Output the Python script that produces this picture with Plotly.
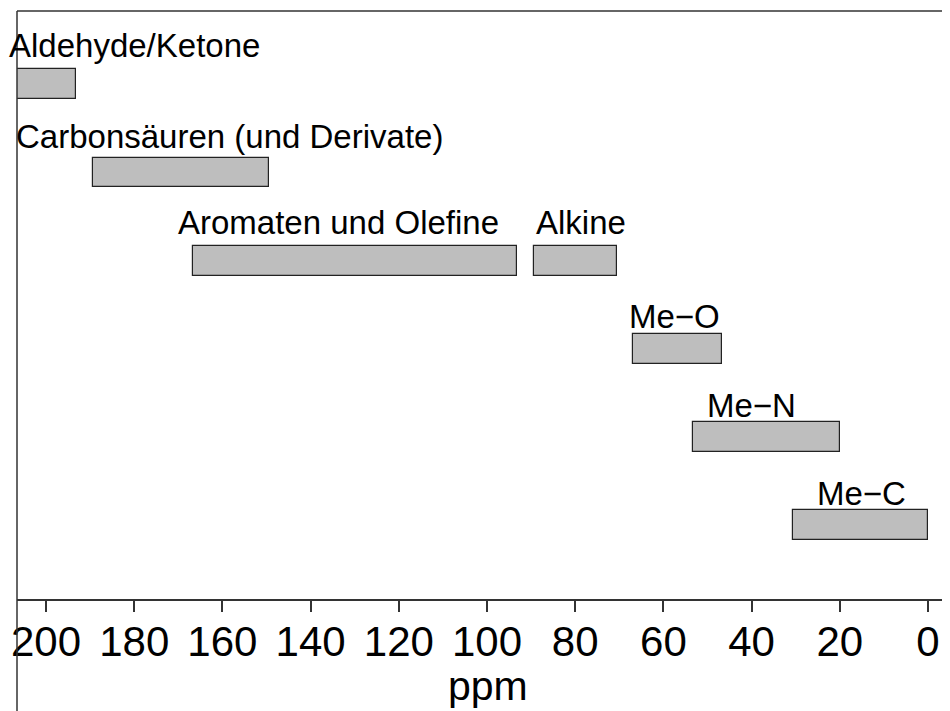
import plotly.graph_objects as go

# Data (ppm ranges)
groups = ["Aldehyde/Ketone", "Carbonsäuren (und Derivate)", "Aromaten und Olefine",
          "Alkine", "Me\u2212O", "Me\u2212N", "Me\u2212C"]
rows = [6, 5, 4, 4, 3, 2, 1]
ppm_high = [220.0, 189.3, 166.7, 89.3, 66.8, 53.4, 30.7]
ppm_low = [193.2, 149.4, 93.3, 70.6, 46.6, 20.0, 0.0]
tick_vals = [0, 20, 40, 60, 80, 100, 120, 140, 160, 180, 200]
tick_text = [str(v) for v in tick_vals]
x_title = "ppm"

# label placement (label centre in ppm, offset above the bar in pixels)
label_x = [180.0, 158.5, 133.6, 78.7, 57.4, 40.1, 15.0]
label_dy_px = [38.8, 36.5, 38.0, 38.0, 32.5, 31.5, 31.6]

FONT = "Liberation Sans, Arial, sans-serif"
W, H = 950, 711
OFF = 8  # page body margin offset
ml, mr, mt, mb = 9, 0, 3, 120
px_per_ppm = 4.41
zero_px = 928 - OFF
x_left = (zero_px - ml) / px_per_ppm
x_right = x_left - (W - ml - mr) / px_per_ppm
row_px = 88.2
row1_px = 525.3 - OFF
y_bottom = 1 - (H - mb - row1_px) / row_px
y_top = 1 + (row1_px - mt) / row_px
plot_h = H - mt - mb

fig = go.Figure()
fig.add_trace(go.Bar(
    y=rows,
    x=[h - l for h, l in zip(ppm_high, ppm_low)],
    base=ppm_low,
    orientation="h",
    width=0.34,
    marker=dict(color="#BEBEBE", line=dict(color="#222222", width=1.2)),
    hoverinfo="skip",
    showlegend=False,
))

for name, r, lx, dy in zip(groups, rows, label_x, label_dy_px):
    fig.add_annotation(
        x=lx, y=r + dy / row_px, xref="x", yref="y",
        text=name, showarrow=False, xanchor="center", yanchor="middle",
        font=dict(family=FONT, size=33, color="black"),
    )

# axis title as annotation (placed in pixels below the plot)
title_center_px = 678
fig.add_annotation(
    x=(479.5 - ml) / (W - ml - mr), y=(H - mb - title_center_px) / plot_h,
    xref="paper", yref="paper", text=x_title, showarrow=False,
    xanchor="center", yanchor="middle",
    font=dict(family=FONT, size=41, color="black"),
)

# frame lines: top and left (left extends to bottom of figure)
fig.add_shape(type="line", xref="paper", yref="paper", x0=0, x1=1, y0=1, y1=1,
              line=dict(color="#333333", width=1.5))
fig.add_shape(type="line", xref="paper", yref="paper", x0=0, x1=0, y0=1,
              y1=-mb / plot_h, line=dict(color="#333333", width=1.5))

fig.update_layout(
    width=W, height=H,
    margin=dict(l=ml, r=mr, t=mt, b=mb, autoexpand=False),
    paper_bgcolor="white", plot_bgcolor="white",
    font=dict(family=FONT, color="black"),
    xaxis=dict(
        range=[x_left, x_right], tickmode="array", tickvals=tick_vals, ticktext=tick_text,
        ticks="outside", ticklen=11, tickwidth=1.5, tickcolor="#333333",
        showline=True, linecolor="#333333", linewidth=1.5,
        showgrid=False, zeroline=False, automargin=False,
        tickfont=dict(family=FONT, size=42, color="black"),
        ticklabelstandoff=-6,
    ),
    yaxis=dict(range=[y_bottom, y_top], visible=False, showgrid=False, zeroline=False,
               automargin=False),
    bargap=0,
)

fig.write_html("out.html")
